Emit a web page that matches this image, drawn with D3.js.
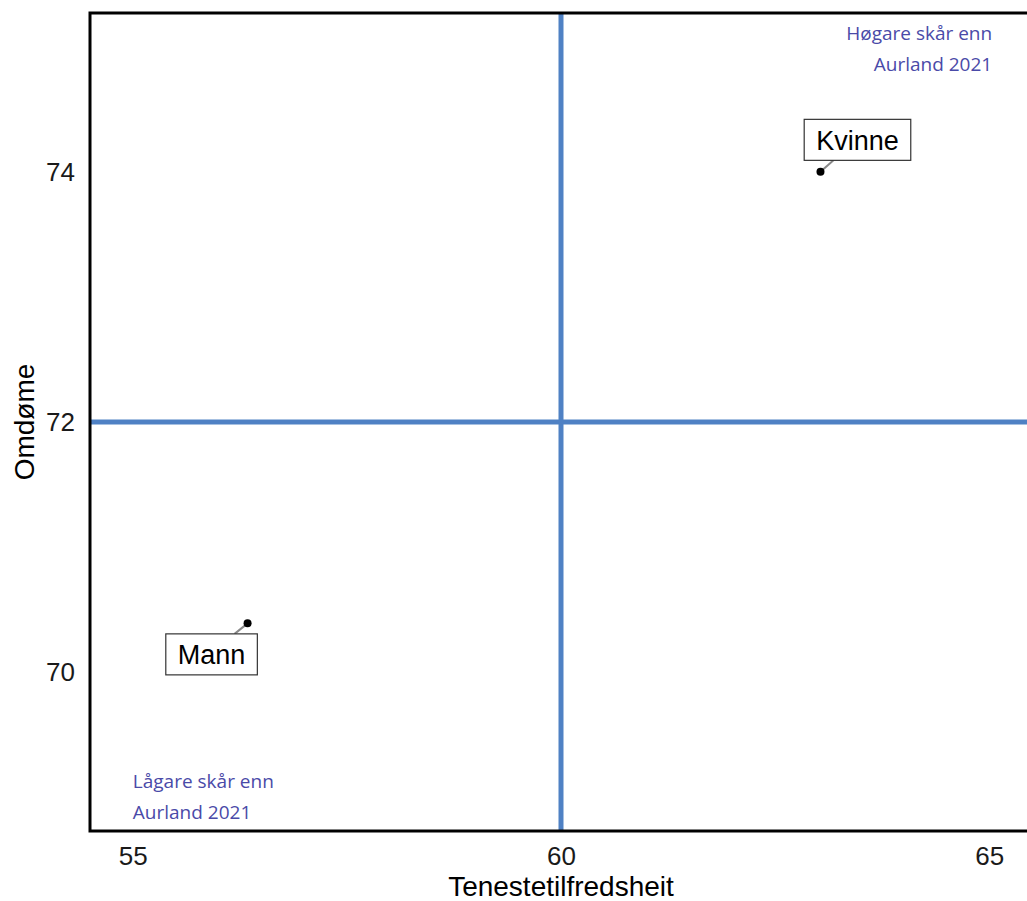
<!DOCTYPE html>
<html><head><meta charset="utf-8">
<script src="https://cdn.jsdelivr.net/npm/d3@7"></script>
<style>body{margin:0;background:#fff}svg{display:block}</style>
</head><body>
<script>
const groups = ["Kvinne", "Mann"];
const tenestetilfredsheit = [63.03, 56.34];
const omdome = [74.0, 70.39];
const xTicks = [55, 60, 65];
const yTicks = [70, 72, 74];
const refX = 60, refY = 72;
const upperNote = ["Høgare skår enn", "Aurland 2021"];
const lowerNote = ["Lågare skår enn", "Aurland 2021"];

const W = 1027, H = 901;
const m = {left: 90, top: 13, right: 1032, bottom: 831};
const svg = d3.select("body").append("svg").attr("width", W).attr("height", H);
const x = d3.scaleLinear().domain([54.5, 65.5]).range([m.left, m.right]);
const y = d3.scaleLinear().domain([68.73, 75.27]).range([m.bottom, m.top]);

// reference lines
const blue = "#4f81c4";
svg.append("line").attr("x1", x(refX)).attr("x2", x(refX)).attr("y1", m.top).attr("y2", m.bottom)
  .attr("stroke", blue).attr("stroke-width", 5);
svg.append("line").attr("x1", m.left).attr("x2", m.right).attr("y1", y(refY)).attr("y2", y(refY))
  .attr("stroke", blue).attr("stroke-width", 5);

// frame
svg.append("rect").attr("x", m.left).attr("y", m.top).attr("width", m.right - m.left).attr("height", m.bottom - m.top)
  .attr("fill", "none").attr("stroke", "#000").attr("stroke-width", 3);

// axes
const xAxis = svg.append("g").attr("transform", `translate(0,${m.bottom})`)
  .call(d3.axisBottom(x).tickValues(xTicks).tickFormat(d3.format("d")).tickSize(0).tickPadding(16));
xAxis.select(".domain").remove();
xAxis.selectAll("text").attr("font-family", "Liberation Sans, Arial, sans-serif").attr("font-size", 26).attr("fill", "#1a1a1a");
const yAxis = svg.append("g").attr("transform", `translate(${m.left},0)`)
  .call(d3.axisLeft(y).tickValues(yTicks).tickFormat(d3.format("d")).tickSize(0).tickPadding(15));
yAxis.select(".domain").remove();
yAxis.selectAll("text").attr("font-family", "Liberation Sans, Arial, sans-serif").attr("font-size", 26).attr("fill", "#1a1a1a");

// axis titles
svg.append("text").attr("x", (m.left + m.right) / 2).attr("y", 896).attr("text-anchor", "middle")
  .attr("font-family", "Liberation Sans, Arial, sans-serif").attr("font-size", 28).text("Tenestetilfredsheit");
svg.append("text").attr("transform", `translate(34,${y(refY)}) rotate(-90)`).attr("text-anchor", "middle")
  .attr("font-family", "Liberation Sans, Arial, sans-serif").attr("font-size", 28).text("Omdøme");

// notes
const noteColor = "#4a4aa8";
const noteFont = "Open Sans, Carlito, Calibri, sans-serif";
upperNote.forEach((t, i) => svg.append("text").attr("x", x(65) + 3).attr("y", 40 + i * 31).attr("text-anchor", "end")
  .attr("font-family", noteFont).attr("font-size", 19).attr("fill", noteColor).text(t));
lowerNote.forEach((t, i) => svg.append("text").attr("x", x(55)).attr("y", 788 + i * 31).attr("text-anchor", "start")
  .attr("font-family", noteFont).attr("font-size", 19).attr("fill", noteColor).text(t));

// points with labels
const offX = [37, -36], offY = [-32, 31];
groups.forEach((g, i) => {
  const px = x(tenestetilfredsheit[i]), py = y(omdome[i]);
  const cx = px + offX[i], cy = py + offY[i];
  const grp = svg.append("g");
  const txt = grp.append("text").attr("x", cx).attr("y", cy + 1).attr("text-anchor", "middle").attr("dominant-baseline", "central")
    .attr("font-family", "Liberation Sans, Arial, sans-serif").attr("font-size", 27).attr("fill", "#000").text(g);
  const bb = txt.node().getBBox();
  const padX = 12, bw = bb.width + 2 * padX, bh = 41;
  const bx = cx - bw / 2, by = cy - bh / 2;
  const ey = i === 0 ? by + bh : by;
  const ex = i === 0 ? px + 13 : px - 13;
  grp.insert("line", "text").attr("x1", px).attr("y1", py).attr("x2", ex).attr("y2", ey)
    .attr("stroke", "#888").attr("stroke-width", 2);
  grp.insert("rect", "text").attr("x", bx).attr("y", by).attr("width", bw).attr("height", bh)
    .attr("fill", "#fff").attr("stroke", "#333").attr("stroke-width", 1.2);
  svg.append("circle").attr("cx", px).attr("cy", py).attr("r", 4).attr("fill", "#000");
});
</script>
</body></html>
